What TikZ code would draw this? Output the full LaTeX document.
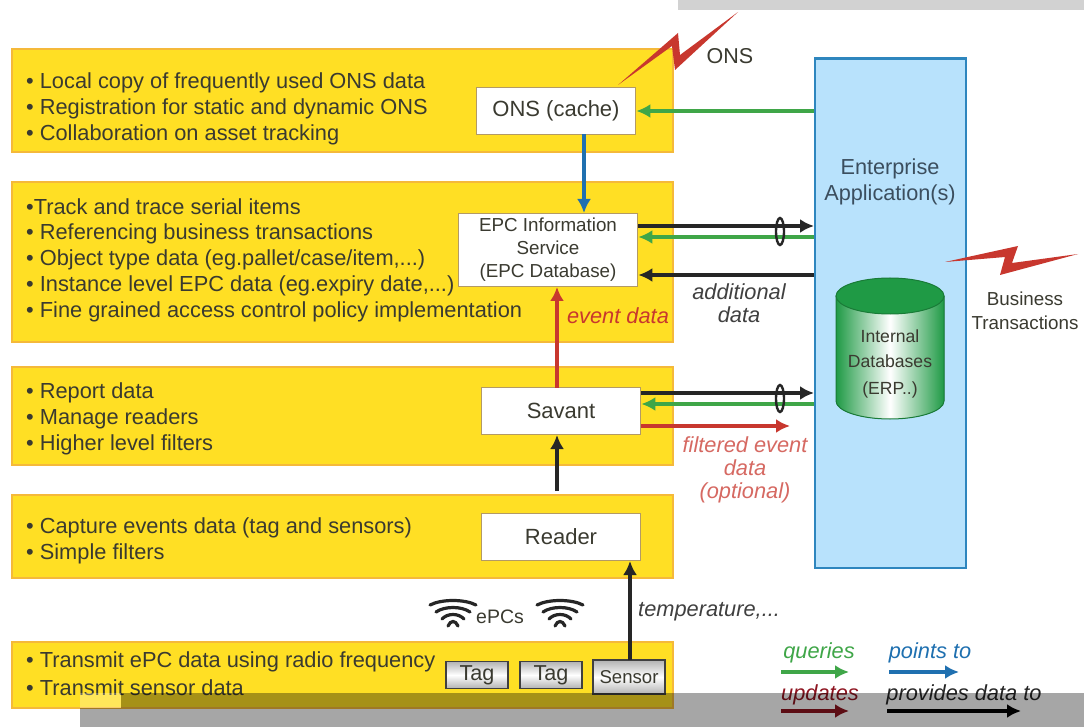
\documentclass[tikz,border=0pt]{standalone}
\usepackage{fontspec}
\setmainfont{Liberation Sans}
\usetikzlibrary{arrows.meta}
\definecolor{yel}{HTML}{FFDF24}
\definecolor{yelb}{HTML}{F5B93A}
\definecolor{bluef}{HTML}{B8E2FC}
\definecolor{blueb}{HTML}{2E86BE}
\definecolor{grn}{HTML}{3FA648}
\definecolor{darkg}{HTML}{1F9A45}
\definecolor{redd}{HTML}{C8372E}
\definecolor{pointb}{HTML}{1F70B0}
\definecolor{upd}{HTML}{8E1420}
\definecolor{txt}{HTML}{3A3A30}
\definecolor{enttxtc}{HTML}{3B4E5E}
\definecolor{greyt}{HTML}{D2D2D2}
\tikzset{
  x=1pt,y=-1pt,
  layer/.style={fill=yel,draw=yelb,line width=1.6pt},
  lbl/.style={font=\fontsize{21.8}{26}\selectfont,text=txt,anchor=west,align=left,inner sep=0pt},
  wbox/.style={fill=white,draw=yelb!60!black!70,line width=1.8pt,inner sep=0pt,align=center,text=txt},
  tagbox/.style={top color=gray!60,bottom color=gray!60,middle color=white,draw=black!75,line width=1.8pt,inner sep=0pt,text=txt},
  captxt/.style={text=txt,inner sep=0pt,align=center},
  arr/.style={line width=3.6pt,-{Latex[length=14pt,width=14pt]}},
  qarr/.style={arr,draw=grn},
  darr/.style={arr,draw=black!85},
  rarr/.style={arr,draw=redd},
  barr/.style={arr,draw=pointb},
  bolt/.style={fill=redd,draw=none},
  itnote/.style={font=\fontsize{21.8}{23}\selectfont\itshape,inner sep=0pt,align=center},
}
\begin{document}
\begin{tikzpicture}
\useasboundingbox (0,0) rectangle (1084,727);
\fill[white] (0,0) rectangle (1084,727);
\fill[greyt] (678,0) rectangle (1084,10);
% layers
\node[layer,minimum width=661pt,minimum height=103pt,anchor=north west,inner sep=0pt] (l1) at (11,48) {};
\node[layer,minimum width=661pt,minimum height=160pt,anchor=north west,inner sep=0pt] (l2) at (11,181) {};
\node[layer,minimum width=661pt,minimum height=98pt,anchor=north west,inner sep=0pt] (l3) at (11,366) {};
\node[layer,minimum width=661pt,minimum height=83pt,anchor=north west,inner sep=0pt] (l4) at (11,494) {};
\node[layer,minimum width=661pt,minimum height=66pt,anchor=north west,inner sep=0pt] (l5) at (11,641) {};
% layer text
\node[lbl] (t1) at (26,82.5) {• Local copy of frequently used ONS data};
\node[lbl] (t2) at (26,108.5) {• Registration for static and dynamic ONS};
\node[lbl] (t3) at (26,134.5) {• Collaboration on asset tracking};
\node[lbl] (t4) at (26,207) {•Track and trace serial items};
\node[lbl] (t5) at (26,233.5) {• Referencing business transactions};
\node[lbl] (t6) at (26,259.5) {• Object type data (eg.pallet/case/item,...)};
\node[lbl] (t7) at (26,285.5) {• Instance level EPC data (eg.expiry date,...)};
\node[lbl] (t8) at (26,311.5) {• Fine grained access control policy implementation};
\node[lbl] (t9) at (26,392.5) {• Report data};
\node[lbl] (t10) at (26,418.5) {• Manage readers};
\node[lbl] (t11) at (26,444.5) {• Higher level filters};
\node[lbl] (t12) at (26,527.5) {• Capture events data (tag and sensors)};
\node[lbl] (t13) at (26,553.5) {• Simple filters};
\node[lbl] (t14) at (26,661.5) {• Transmit ePC data using radio frequency};
\node[lbl] (t15) at (26,687.5) {• Transmit sensor data};
% enterprise
\node[fill=bluef,draw=blueb,line width=2.4pt,minimum width=151pt,minimum height=509pt,anchor=north west,inner sep=0pt] (ent) at (814,57.5) {};
\node[captxt,font=\fontsize{21.7}{26}\selectfont,text=enttxtc] (enttxt) at (890,182) {Enterprise\\Application(s)};
% cylinder
\fill[left color=darkg,right color=darkg,middle color=white,draw=none]
  (836,296) -- (836,401) arc[start angle=180,end angle=360,x radius=54pt,y radius=18pt] -- (944,296) -- cycle;
\draw[darkg!80!black,line width=1pt] (836,296) -- (836,401) arc[start angle=180,end angle=360,x radius=54pt,y radius=18pt] -- (944,296);
\draw[fill=darkg,draw=darkg!80!black,line width=1pt] (890,296) ellipse[x radius=54pt,y radius=18pt];
\node[captxt,font=\fontsize{17.6}{25}\selectfont] (db) at (890,364) {Internal\\Databases\\[2pt](ERP..)};
% lightning bolts
\fill[bolt] (618,85) -- (678,33) -- (680,55) -- (738,12) -- (675,70) -- (672,46) -- cycle;
\fill[bolt] (945,262) -- (1018,246) -- (1012,263) -- (1078,254) -- (1000,275) -- (1005,257) -- cycle;
\node[captxt,font=\fontsize{21.5}{24}\selectfont] (ons) at (730,56) {ONS};
\node[captxt,font=\fontsize{18.8}{24}\selectfont] (bt) at (1025,311) {Business\\Transactions};
% component boxes
\node[wbox,minimum width=159pt,minimum height=47pt,font=\fontsize{22}{24}\selectfont] (cache) at (556,111) {ONS (cache)};
\node[wbox,minimum width=179pt,minimum height=73pt,font=\fontsize{18.8}{23}\selectfont] (epc) at (548,250) {EPC Information\\Service\\(EPC Database)};
\node[wbox,minimum width=159pt,minimum height=47pt,font=\fontsize{22}{24}\selectfont] (savant) at (561,411) {Savant};
\node[wbox,minimum width=159pt,minimum height=47pt,font=\fontsize{22}{24}\selectfont] (reader) at (561,537) {Reader};
\node[tagbox,minimum width=62pt,minimum height=27pt,font=\fontsize{21.6}{22}\selectfont] (tag1) at (477,675) {Tag};
\node[tagbox,minimum width=62pt,minimum height=27pt,font=\fontsize{21.6}{22}\selectfont] (tag2) at (551,675) {Tag};
\node[tagbox,minimum width=72pt,minimum height=34pt,font=\fontsize{18.6}{20}\selectfont] (sensor) at (629,677) {Sensor};
% helper coordinates
\coordinate (e1) at (ent.west |- cache.east);
\coordinate (s1) at (epc.east |- 0,226);
\coordinate (e2) at (ent.west |- 0,226);
\coordinate (s2) at (epc.east |- 0,237);
\coordinate (e3) at (ent.west |- 0,237);
\coordinate (s3) at (epc.east |- 0,275);
\coordinate (e4) at (ent.west |- 0,275);
\coordinate (s4) at (savant.east |- 0,393);
\coordinate (e5) at (ent.west |- 0,393);
\coordinate (s5) at (savant.east |- 0,404);
\coordinate (e6) at (ent.west |- 0,404);
\coordinate (s6) at (savant.east |- 0,426);
\coordinate (r6) at (790,426);
% connectors
\draw[qarr] (e1) -- (cache.east);
\draw[barr] (584,134.5) -- (584,213);
\draw[darr] (s1) -- (e2);
\draw[qarr] (e3) -- (s2);
\draw[darr] (e4) -- (s3);
\draw[rarr] (557,387.5) -- (557,287);
\draw[darr] (s4) -- (e5);
\draw[qarr] (e6) -- (s5);
\draw[rarr] (s6) -- (r6);
\draw[darr] (557,491) -- (557,435);
\draw[darr] (630,660) -- (630,561);
% bundle rings
\draw[black!85,line width=2.4pt] (780,231.5) ellipse[x radius=4pt,y radius=13.5pt];
\draw[black!85,line width=2.4pt] (780,398.5) ellipse[x radius=4pt,y radius=13.5pt];
% labels
\node[itnote,text=black!75] (addl) at (739,303) {additional\\data};
\node[itnote,text=redd] (evd) at (618,316) {event data};
\node[itnote,text=redd!75] (fed) at (745,470) {filtered event\\data\\(optional)};
\node[itnote,text=black!75,anchor=west] (temp) at (638,612) {temperature,...};
\node[captxt,font=\fontsize{19.5}{22}\selectfont] (epcs) at (500,617) {ePCs};
% wireless icons
\foreach \cx in {453,560}{
  \foreach \h/\y in {23/601,17/608,11/615,5/622}{
    \draw[black!85,line width=3.2pt,line cap=round] (\cx-\h,\y+4) .. controls (\cx-\h*0.5,\y-2) and (\cx+\h*0.5,\y-2) .. (\cx+\h,\y+4);
  }
}
% legend
\node[itnote,text=grn] (lq) at (819,653) {queries};
\node[itnote,text=pointb] (lp) at (930,653) {points to};
\node[itnote,text=upd] (lu) at (820,695) {updates};
\node[itnote,text=black!85] (ld) at (964,695) {provides data to};
\coordinate (a1) at (781,672); \coordinate (a2) at (849,672);
\coordinate (b1) at (889,672); \coordinate (b2) at (959,672);
\coordinate (c1) at (781,711); \coordinate (c2) at (849,711);
\coordinate (d1) at (887,711); \coordinate (d2) at (1021,711);
\draw[qarr] (a1) -- (a2);
\draw[barr] (b1) -- (b2);
\draw[arr,draw=upd] (c1) -- (c2);
\draw[arr,draw=black] (d1) -- (d2);
% grey overlay band
\begin{scope}[blend mode=multiply]
\fill[gray!70] (80,708) rectangle (121,727);
\fill[gray!70] (121,693) rectangle (1084,727);
\end{scope}
\fill[white,opacity=0.25] (80,693) rectangle (121,708);
\end{tikzpicture}
\end{document}
